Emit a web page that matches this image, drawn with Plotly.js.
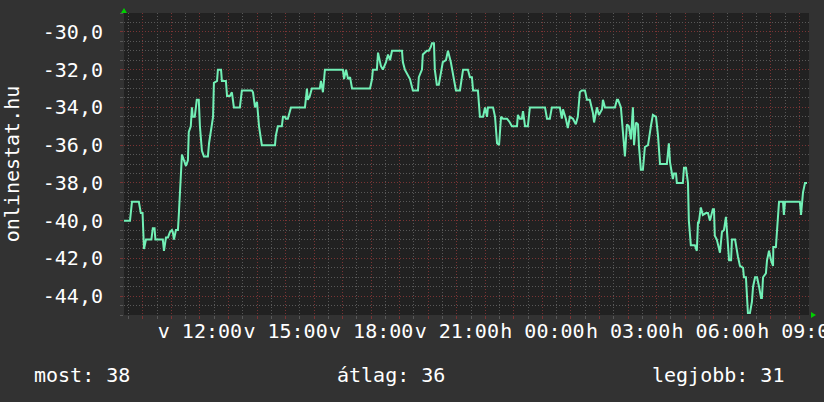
<!DOCTYPE html>
<html>
<head>
<meta charset="utf-8">
<script src="https://cdn.plot.ly/plotly-3.0.1.min.js"></script>
<style>
  html, body { margin: 0; padding: 0; background: #323232; }
  #chart { width: 824px; height: 402px; }
</style>
</head>
<body>
<div id="chart"></div>
<script>
// Time in hours since Sunday 00:00 (values > 24 are Monday)
const timeH = [
  9.34, 9.55, 9.62, 9.86, 9.93, 9.99, 10.04, 10.11, 10.30, 10.35,
  10.41, 10.44, 10.70, 10.74, 10.81, 10.88, 10.95, 11.02, 11.05, 11.09,
  11.16, 11.23, 11.26, 11.30, 11.33, 11.37, 11.44, 11.51, 11.58, 11.61,
  11.68, 11.72, 11.75, 11.82, 11.89, 11.96, 12.00, 12.07, 12.14, 12.28,
  12.32, 12.39, 12.46, 12.49, 12.60, 12.63, 12.74, 12.77, 12.91, 12.95,
  13.05, 13.12, 13.19, 13.40, 13.47, 13.82, 13.86, 13.93, 14.00, 14.07,
  14.17, 14.63, 14.66, 14.73, 14.87, 14.91, 14.98, 15.01, 15.08, 15.19,
  15.68, 15.75, 15.78, 15.85, 15.92, 16.20, 16.24, 16.31, 16.38, 17.01,
  17.05, 17.12, 17.19, 17.26, 17.33, 17.96, 18.03, 18.06, 18.20, 18.24,
  18.34, 18.41, 18.52, 18.59, 18.66, 18.73, 19.08, 19.11, 19.18, 19.36,
  19.46, 19.64, 19.67, 19.78, 19.81, 19.95, 20.02, 20.09, 20.13, 20.20,
  20.23, 20.30, 20.37, 20.44, 20.51, 20.62, 20.69, 20.79, 20.86, 20.97,
  21.11, 21.18, 21.22, 21.39, 21.46, 21.53, 21.57, 21.74, 21.81, 21.88,
  21.92, 21.99, 22.06, 22.09, 22.27, 22.34, 22.41, 22.48, 22.55, 22.62,
  22.76, 22.86, 22.93, 23.11, 23.14, 23.21, 23.28, 23.32, 23.39, 23.49,
  23.56, 24.09, 24.16, 24.26, 24.33, 24.61, 24.68, 24.72, 24.82, 24.89,
  24.96, 25.07, 25.17, 25.24, 25.31, 25.38, 25.49, 25.56, 25.66, 25.77,
  25.81, 25.91, 25.98, 26.09, 26.12, 26.19, 26.54, 26.61, 26.65, 26.75,
  26.82, 26.89, 26.96, 27.03, 27.10, 27.17, 27.21, 27.28, 27.35, 27.38,
  27.45, 27.52, 27.59, 27.70, 27.80, 27.87, 27.98, 28.05, 28.12, 28.36,
  28.43, 28.47, 28.57, 28.61, 28.68, 28.71, 28.92, 28.96, 29.03, 29.10,
  29.13, 29.20, 29.34, 29.41, 29.45, 29.48, 29.55, 29.62, 29.73, 29.80,
  29.87, 29.97, 30.01, 30.04, 30.11, 30.22, 30.29, 30.36, 30.43, 30.47,
  30.54, 30.61, 30.64, 30.75, 30.82, 30.85, 30.92, 31.03, 31.06, 31.13,
  31.20, 31.27, 31.34, 31.38, 31.45, 31.52, 31.59, 31.66, 31.69, 31.73,
  31.83, 31.87, 31.94, 32.01, 32.08, 32.09, 32.18, 32.22, 32.29, 32.43,
  32.46, 32.50, 33.02, 33.06, 33.13, 33.20, 33.27
];
const value = [
  -40.0, -40.0, -39.0, -39.0, -39.6, -39.6, -41.5, -41.0, -41.0, -40.4,
  -40.4, -41.0, -41.0, -41.6, -40.9, -40.9, -40.6, -40.5, -40.6, -41.0,
  -40.5, -40.5, -39.7, -38.7, -37.6, -36.5, -36.8, -37.1, -36.8, -35.3,
  -35.0, -34.0, -34.5, -34.5, -33.6, -33.6, -35.0, -36.3, -36.6, -36.6,
  -35.9, -35.2, -34.5, -32.7, -32.6, -32.0, -32.0, -32.6, -32.6, -33.4,
  -33.4, -33.2, -34.0, -34.0, -33.1, -33.1, -33.2, -34.0, -33.7, -35.0,
  -36.0, -36.0, -35.5, -35.0, -35.0, -34.5, -34.5, -34.6, -34.6, -34.0,
  -34.0, -33.0, -33.6, -33.4, -33.0, -33.0, -32.6, -33.2, -32.0, -32.0,
  -32.5, -32.0, -32.5, -32.4, -33.0, -33.0, -32.5, -32.0, -32.0, -31.1,
  -31.8, -32.0, -31.6, -31.2, -31.5, -31.0, -31.0, -31.6, -32.0, -32.5,
  -33.1, -33.1, -32.4, -32.0, -31.2, -31.0, -31.0, -30.8, -30.6, -30.6,
  -32.0, -32.8, -32.8, -32.2, -31.6, -31.5, -31.0, -31.6, -32.2, -33.1,
  -33.1, -32.4, -32.0, -32.0, -32.4, -32.4, -33.1, -33.1, -34.5, -34.5,
  -34.5, -34.0, -34.5, -34.0, -34.0, -34.5, -35.9, -36.0, -34.5, -34.6,
  -34.6, -34.8, -35.0, -35.0, -34.4, -34.6, -34.6, -34.2, -35.0, -35.0,
  -34.0, -34.0, -34.6, -34.6, -34.0, -34.0, -34.6, -34.1, -34.6, -35.1,
  -34.5, -34.6, -34.9, -34.5, -33.2, -33.1, -33.1, -33.6, -33.6, -34.3,
  -34.8, -34.0, -34.4, -34.1, -33.6, -34.0, -34.0, -33.6, -33.6, -34.0,
  -35.5, -36.6, -34.9, -35.0, -35.7, -34.0, -36.0, -34.8, -34.9, -36.0,
  -37.3, -37.3, -36.1, -36.0, -35.0, -34.4, -34.5, -35.5, -37.0, -37.0,
  -35.9, -36.9, -37.8, -37.5, -37.5, -38.0, -38.0, -37.2, -37.2, -38.0,
  -40.0, -41.3, -41.3, -41.6, -40.1, -40.1, -39.3, -39.7, -39.6, -39.6,
  -40.0, -39.4, -39.4, -40.8, -41.0, -41.7, -40.6, -40.5, -39.8, -40.6,
  -42.1, -42.1, -41.0, -41.0, -41.8, -41.9, -42.4, -42.5, -43.0, -43.0,
  -44.9, -44.9, -44.3, -43.5, -43.0, -43.0, -43.5, -44.1, -44.1, -43.0,
  -42.8, -42.1, -41.6, -42.1, -42.4, -41.4, -41.4, -40.3, -39.0, -39.0,
  -39.7, -39.0, -39.0, -39.7, -38.5, -38.0, -38.0
];

const yTickVals = [-44, -42, -40, -38, -36, -34, -32, -30];
const yTickText = ['-44,0', '-42,0', '-40,0', '-38,0', '-36,0', '-34,0', '-32,0', '-30,0'];
const xLabelHours = [12, 15, 18, 21, 24, 27, 30, 33];
const xLabelText = ['v 12:00', 'v 15:00', 'v 18:00', 'v 21:00', 'h 00:00', 'h 03:00', 'h 06:00', 'h 09:00'];
const summaryLabels = ['most', 'átlag', 'legjobb'];
const summaryValues = [38, 36, 31];
const yTitle = 'onlinestat.hu';

// major x grid every hour, labels only every 3 hours
const xTickVals = [];
const xTickText = [];
for (let h = 10; h <= 33; h++) {
  xTickVals.push(h);
  const i = xLabelHours.indexOf(h);
  xTickText.push(i >= 0 ? xLabelText[i] : '');
}

const FONT = 'DejaVu Sans Mono, monospace';
const MAJOR = '#7a3434';
const MINOR = '#585858';

const trace = {
  type: 'scatter',
  mode: 'lines',
  x: timeH,
  y: value,
  line: { color: '#72f0b6', width: 2 },
  hoverinfo: 'skip'
};

const summaryX = [-0.134, 0.308, 0.768];
const annotations = summaryLabels.map((lab, i) => ({
  xref: 'paper', yref: 'paper',
  x: summaryX[i], y: -0.2,
  xanchor: 'left', yanchor: 'middle',
  text: lab + ': ' + summaryValues[i],
  showarrow: false,
  font: { family: FONT, size: 20, color: '#ffffff' }
}));

const layout = {
  width: 824, height: 402,
  margin: { l: 124, r: 15, t: 13, b: 87 },
  paper_bgcolor: '#323232',
  plot_bgcolor: '#212121',
  showlegend: false,
  font: { family: FONT, size: 20, color: '#ffffff' },
  xaxis: {
    range: [9.34, 33.34],
    tickmode: 'array',
    tickvals: xTickVals,
    ticktext: xTickText,
    tickangle: 0,
    ticklabeloverflow: 'allow',
    ticks: 'outside', ticklen: 3, tickcolor: MAJOR, tickwidth: 1,
    showgrid: true, gridcolor: MAJOR, gridwidth: 1, griddash: '1px,2px',
    minor: { dtick: 0.5, tick0: 0, showgrid: true, gridcolor: MINOR, griddash: '1px,2px',
             ticks: 'outside', ticklen: 3, tickcolor: MINOR },
    zeroline: false, showline: false,
    tickfont: { family: FONT, size: 20, color: '#ffffff' },
    ticklabelstandoff: -5,
    fixedrange: true
  },
  yaxis: {
    range: [-45, -29],
    tickmode: 'array',
    tickvals: yTickVals,
    ticktext: yTickText,
    ticks: 'outside', ticklen: 3, tickcolor: MAJOR,
    showgrid: true, gridcolor: MAJOR, gridwidth: 1, griddash: '1px,2px',
    minor: { dtick: 0.5, tick0: -45, showgrid: true, gridcolor: MINOR, griddash: '1px,2px',
             ticks: 'outside', ticklen: 3, tickcolor: MINOR },
    zeroline: false, showline: false,
    tickfont: { family: FONT, size: 20, color: '#ffffff' },
    ticklabelstandoff: 13,
    title: { text: yTitle, font: { family: FONT, size: 20, color: '#ffffff' }, standoff: 24 },
    fixedrange: true
  },
  shapes: [
    { type: 'path', xref: 'paper', yref: 'paper',
      path: 'M -0.0044 1.0 L 0.0044 1.0 L 0.0 1.0166 Z',
      fillcolor: '#00d000', line: { width: 0 } },
    { type: 'path', xref: 'paper', yref: 'paper',
      path: 'M 1.0029 0.0100 L 1.0029 -0.0100 L 1.0102 0.0 Z',
      fillcolor: '#00d000', line: { width: 0 } }
  ],
  annotations: annotations
};

Plotly.newPlot('chart', [trace], layout, { displayModeBar: false, staticPlot: true });
</script>
</body>
</html>
